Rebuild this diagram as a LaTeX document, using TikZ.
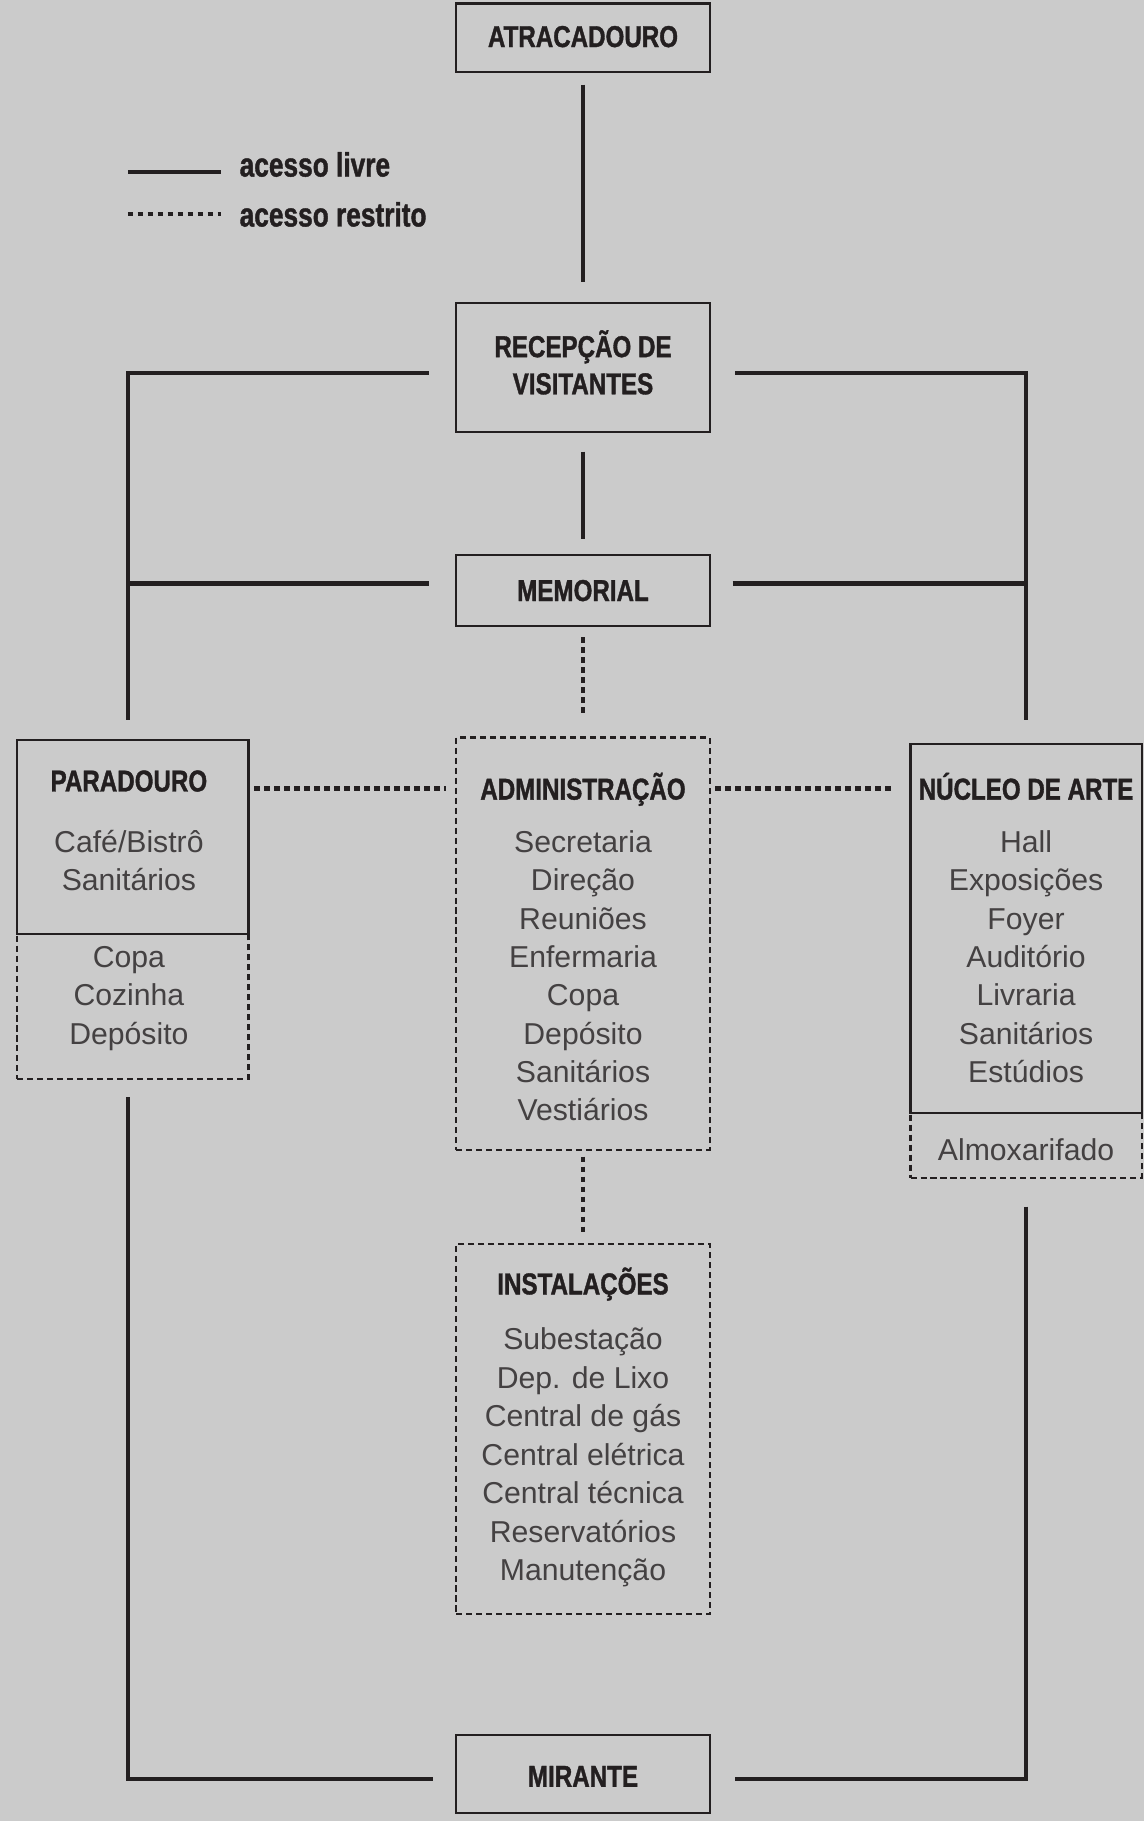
\documentclass[tikz,border=0pt]{standalone}
\usepackage{fontspec}
\setmainfont{Liberation Sans}
\newfontfamily\condb{Liberation Sans}[FakeStretch=0.8,FakeBold=1.2]
\newfontfamily\legf{Liberation Sans}[FakeStretch=0.78,FakeBold=1.2]
\definecolor{ink}{HTML}{231F20}
\definecolor{bg}{HTML}{CBCBCB}
\begin{document}
\begin{tikzpicture}[x=0.5pt,y=-0.5pt,
  solidbox/.style={draw=ink,line width=0.9pt,inner sep=0,minimum width=109pt},
  dotbox/.style={draw=ink,line width=0.9pt,inner sep=0,minimum width=109pt,dash pattern=on 2.6pt off 1.7pt},
  freeline/.style={draw=ink,line width=1.8pt},
  restline/.style={draw=ink,line width=1.8pt,dash pattern=on 2.4pt off 1.9pt},
  ttl/.style={font=\condb\bfseries\fontsize{13}{16}\selectfont,text=ink,inner sep=0,anchor=base},
  itm/.style={font=\fontsize{13}{16}\selectfont,text=ink!85,inner sep=0,anchor=base},
  lgt/.style={font=\legf\bfseries\fontsize{14.5}{17}\selectfont,text=ink,inner sep=0,anchor=base west}]
\fill[bg] (0,0) rectangle (985,1568);
\useasboundingbox (0,0) rectangle (985,1568);

% boxes
\node[solidbox,minimum height=29.5pt] (atr) at (502,32.5) {};
\node[solidbox,minimum height=55.5pt] (rec) at (502,316.5) {};
\node[solidbox,minimum height=30.5pt] (mem) at (502,508.5) {};
\node[dotbox,minimum width=99.5pt,minimum height=62.5pt] (parlow) at (114.5,866.5) {};
\node[solidbox,minimum width=99.5pt,minimum height=83.5pt] (par) at (114.5,720.5) {};
\node[dotbox,minimum height=177.5pt] (adm) at (502,812.5) {};
\node[dotbox,minimum width=99.5pt,minimum height=28pt] (nuclow) at (883.5,986) {};
\node[solidbox,minimum width=99.5pt,minimum height=158.5pt] (nuc) at (883.5,799.5) {};
\node[dotbox,minimum height=159.5pt] (inst) at (502,1230.5) {};
\node[solidbox,minimum height=33.5pt] (mir) at (502,1527.5) {};

\coordinate (pl) at ([xshift=-2pt]par.north);
\coordinate (pb) at ([xshift=-2pt]parlow.south);
\coordinate (admy) at (502,679);
\coordinate (recw) at ([yshift=-2.5pt]rec.west);
\coordinate (rece) at ([yshift=-2.5pt]rec.east);
\coordinate (memw) at ([yshift=3pt]mem.west);
\coordinate (meme) at ([yshift=3pt]mem.east);
\coordinate (mirw) at ([yshift=-2pt]mir.west);
\coordinate (mire) at ([yshift=-2pt]mir.east);

% titles
\node[ttl] (atrt) at (502,40.5) {ATRACADOURO};
\node[ttl] (rect1) at (502,307.5) {RECEPÇÃO DE};
\node[ttl] (rect2) at (502,339.5) {VISITANTES};
\node[ttl] (memt) at (502,517.5) {MEMORIAL};
\node[ttl] (part) at (111,681.5) {PARADOURO};
\node[ttl] (admt) at (502,688.5) {ADMINISTRAÇÃO};
\node[ttl] (nuct) at (883.5,688.5) {NÚCLEO DE ARTE};
\node[ttl] (instt) at (502,1114.5) {INSTALAÇÕES};
\node[ttl] (mirt) at (502,1538.5) {MIRANTE};

% items
\foreach \t [count=\i] in {Café/Bistrô,Sanitários}
  \node[itm,name=par\i] at (111,{734+33*(\i-1)}) {\t};
\foreach \t [count=\i] in {Copa,Cozinha,Depósito}
  \node[itm,name=parl\i] at (111,{833+33*(\i-1)}) {\t};
\foreach \t [count=\i] in {Secretaria,Direção,Reuniões,Enfermaria,Copa,Depósito,Sanitários,Vestiários}
  \node[itm,name=adm\i] at (502,{734+33*(\i-1)}) {\t};
\foreach \t [count=\i] in {Hall,Exposições,Foyer,Auditório,Livraria,Sanitários,Estúdios}
  \node[itm,name=nuc\i] at (883.5,{734+33*(\i-1)}) {\t};
\node[itm] (nucl1) at (883.5,999) {Almoxarifado};
\foreach \t [count=\i] in {Subestação,Dep. de Lixo,Central de gás,Central elétrica,Central técnica,Reservatórios,Manutenção}
  \node[itm,name=inst\i] at (502,{1162+33.17*(\i-1)}) {\t};

% legend
\coordinate (la1) at (110,148);
\coordinate (la2) at (190,148);
\coordinate (lb1) at (110,184);
\coordinate (lb2) at (190,184);
\draw[freeline] (la1) -- (la2);
\draw[restline] (lb1) -- (lb2);
\node[lgt] (lgt1) at (206,152) {acesso livre};
\node[lgt] (lgt2) at (206,195) {acesso restrito};

% free access connectors
\draw[freeline,shorten <=5pt,shorten >=8.5pt] (atr) -- (rec);
\draw[freeline,shorten <=8pt,shorten >=6.5pt] (rec) -- (mem);
\draw[freeline,shorten <=11.5pt,shorten >=8pt] (recw) -| (pl);
\draw[freeline,shorten <=10.5pt,shorten >=10pt] (rece) -| (nuc.north);
\draw[freeline,shorten <=11.5pt] (memw) -- (memw -| pl);
\draw[freeline,shorten <=9.5pt] (meme) -- (meme -| nuc.north);
\draw[freeline,shorten <=7.5pt,shorten >=9.5pt] (pb) |- (mirw);
\draw[freeline,shorten <=12pt,shorten >=10.5pt] (nuclow.south) |- (mire);

% restricted access connectors
\draw[restline,shorten <=4.5pt,shorten >=9pt] (mem) -- (adm);
\draw[restline,shorten <=2pt,shorten >=4pt] (par.east |- admy) -- (adm.west |- admy);
\draw[restline,shorten <=2pt,shorten >=8pt] (adm.east |- admy) -- (nuc.west |- admy);
\draw[restline,shorten <=2.5pt,shorten >=3pt] (adm) -- (inst);
\end{tikzpicture}
\end{document}
